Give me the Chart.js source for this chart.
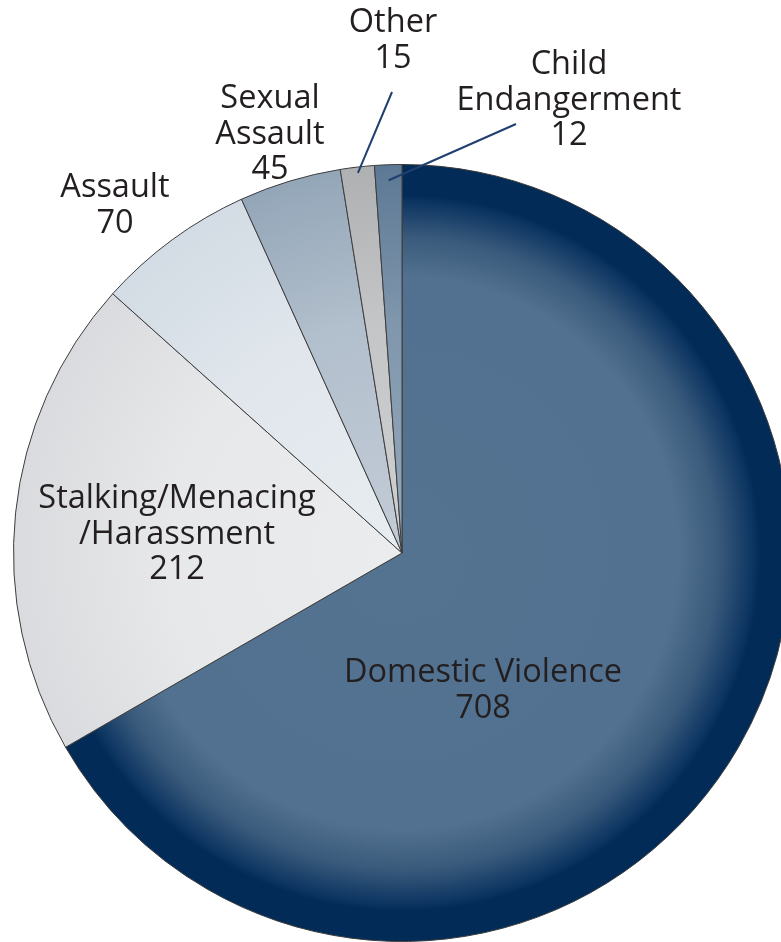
<!DOCTYPE html>
<html>
<head>
<meta charset="utf-8">
<script src="https://cdn.jsdelivr.net/npm/chart.js@4"></script>
<style>
  html, body { margin: 0; padding: 0; background: #ffffff; overflow: hidden; }
  #wrap { position: relative; width: 800px; height: 942px; }
</style>
</head>
<body>
<div id="wrap"><canvas id="c" width="800" height="942"></canvas></div>
<script>
// ---- data ----
const categories = ['Domestic Violence', 'Stalking/Menacing/Harassment', 'Assault', 'Sexual Assault', 'Other', 'Child Endangerment'];
const values = [708, 212, 70, 45, 15, 12];
const labelTextLines = [
  ['Domestic Violence'],
  ['Stalking/Menacing', '/Harassment'],
  ['Assault'],
  ['Sexual', 'Assault'],
  ['Other'],
  ['Child', 'Endangerment']
];

// ---- styles / layout ----
const sliceStops = [
  [[0, '#547391'], [0.71, '#527190'], [0.81, '#3b5b7c'], [0.905, '#0b3461'], [0.92, '#022b57'], [1, '#022b57']],
  [[0, '#ebeced'], [0.6, '#e7e8e9'], [1, '#dadbde']],
  [[0, '#e8edf1'], [0.6, '#e0e6ec'], [1, '#d3dce4']],
  [[0, '#c2ccd7'], [0.6, '#b2bfcc'], [1, '#93a6b8']],
  [[0, '#cfd0d2'], [0.6, '#c3c5c7'], [1, '#aeb0b2']],
  [[0, '#97aabd'], [0.6, '#7f96ac'], [1, '#5c7894']]
];
// label block: centre x offset and first baseline y offset from pie centre; leader: radius fraction of start point
const labelLayout = [
  { dx: 81, dy: 129 },
  { dx: -225, dy: -45 },
  { dx: -287, dy: -356 },
  { dx: -132, dy: -445 },
  { dx: -9, dy: -521, leader: { fr: 0.985, ex: -10, ey: -461 } },
  { dx: 167, dy: -479, leader: { fr: 0.96, ex: 114, ey: -429 } }
];
const lineHeight = 35.5;
const fontSpec = '32.5px "Open Sans", "DejaVu Sans", sans-serif';

function sliceColor(ctx) {
  const chart = ctx.chart;
  const area = chart.chartArea;
  if (!area) return '#888';
  const cx = (area.left + area.right) / 2;
  const cy = (area.top + area.bottom) / 2;
  const r = Math.min(area.right - area.left, area.bottom - area.top) / 2;
  const g = chart.ctx.createRadialGradient(cx, cy, 0, cx, cy, r);
  sliceStops[ctx.dataIndex].forEach(s => g.addColorStop(s[0], s[1]));
  return g;
}

const labelPlugin = {
  id: 'sliceLabels',
  afterDatasetsDraw(chart) {
    const meta = chart.getDatasetMeta(0);
    const c = chart.ctx;
    c.save();
    c.font = fontSpec;
    c.fillStyle = '#231f20';
    c.textAlign = 'center';
    c.textBaseline = 'alphabetic';
    meta.data.forEach((arc, i) => {
      const L = labelLayout[i];
      const cx = arc.x, cy = arc.y;
      const lines = labelTextLines[i].concat([String(values[i])]);
      if (L.leader) {
        const mid = (arc.startAngle + arc.endAngle) / 2;
        const r = arc.outerRadius * L.leader.fr;
        c.save();
        c.strokeStyle = '#203f70';
        c.lineWidth = 2;
        c.beginPath();
        c.moveTo(cx + Math.cos(mid) * r, cy + Math.sin(mid) * r);
        c.lineTo(cx + L.leader.ex, cy + L.leader.ey);
        c.stroke();
        c.restore();
      }
      lines.forEach((t, k) => {
        c.fillText(t, cx + L.dx, cy + L.dy + k * lineHeight);
      });
    });
    c.restore();
  }
};

new Chart(document.getElementById('c'), {
  type: 'pie',
  data: {
    labels: categories,
    datasets: [{
      data: values,
      backgroundColor: sliceColor,
      borderColor: '#3d3d3d',
      borderWidth: 1,
      hoverOffset: 0,
      offset: 0
    }]
  },
  options: {
    responsive: false,
    animation: false,
    layout: { padding: { left: 13, right: 9, top: 164, bottom: 0 } },
    plugins: { legend: { display: false }, tooltip: { enabled: false } },
    events: []
  },
  plugins: [labelPlugin]
});
</script>
</body>
</html>
